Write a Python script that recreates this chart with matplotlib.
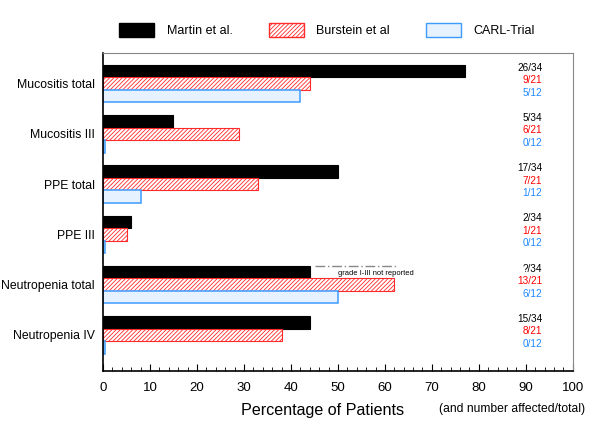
import numpy as np
import matplotlib
matplotlib.use("Agg")
import matplotlib.pyplot as plt
from matplotlib.patches import Patch
from matplotlib.ticker import MultipleLocator

plt.rcParams['font.family'] = ['Liberation Sans', 'DejaVu Sans']
plt.rcParams['hatch.linewidth'] = 0.6

categories = ["Mucositis total", "Mucositis III", "PPE total", "PPE III",
              "Neutropenia total", "Neutropenia IV"]
series_names = ["Martin et al.", "Burstein et al", "CARL-Trial"]
martin = [77, 15, 50, 6, 44, 44]
burstein = [44, 29, 33, 5, 62, 38]
carl = [42, 0.5, 8, 0.5, 50, 0.5]
martin_counts = ["26/34", "5/34", "17/34", "2/34", "?/34", "15/34"]
burstein_counts = ["9/21", "6/21", "7/21", "1/21", "13/21", "8/21"]
carl_counts = ["5/12", "0/12", "1/12", "0/12", "6/12", "0/12"]

blue_edge = "#3d9bff"
blue_face = "#e6f2ff"
red_edge = "#ff2a2a"
text_colors = ["black", "#ff0000", "#1e88ff"]

fig = plt.figure(figsize=(6, 4.24), dpi=100)
ax = fig.add_axes([0.1717, 0.125, 0.783, 0.75])

y = np.arange(len(categories))
h = 0.25
ax.barh(y - h, martin, height=h, color="black", edgecolor="black", linewidth=0.8)
ax.barh(y, burstein, height=h, color="white", edgecolor=red_edge, hatch="////////", linewidth=0.8)
ax.barh(y + h, carl, height=h, color=blue_face, edgecolor=blue_edge, linewidth=1.1)

# counts on the right
for i in range(len(categories)):
    for j, labels in enumerate([martin_counts, burstein_counts, carl_counts]):
        ax.text(93.5, y[i] + (j - 1) * h - 0.07, labels[i], ha="right", va="center",
                fontsize=7.2, color=text_colors[j])

# note on neutropenia total
ax.plot([45.2, 62.3], [4 - 0.37, 4 - 0.37], color="#888888", linestyle=(0, (7, 2, 1, 2)), linewidth=1.0)
ax.text(50.0, 4 - 0.23, "grade I-III not reported", fontsize=5.4, va="center", ha="left")

ax.set_xlim(0, 100)
ax.set_ylim(5.72, -0.61)
ax.set_yticks(y)
ax.set_yticklabels(categories, fontsize=8.8)
ax.tick_params(axis="y", length=0, pad=6)
ax.xaxis.set_major_locator(MultipleLocator(10))
ax.xaxis.set_minor_locator(MultipleLocator(2))
ax.tick_params(axis="x", which="major", direction="in", length=5, labelsize=9.5, pad=8)
ax.tick_params(axis="x", which="minor", direction="in", length=3)
for s in ["top", "right"]:
    ax.spines[s].set_color("#888888")
for s in ["left", "bottom"]:
    ax.spines[s].set_color("black")
    ax.spines[s].set_linewidth(1.2)

fig.text(0.537, 0.033, "Percentage of Patients", fontsize=11.6, ha="center", va="center")
fig.text(0.854, 0.036, "(and number affected/total)", fontsize=8.7, ha="center", va="center")

handles = [Patch(facecolor="black", edgecolor="black"),
           Patch(facecolor="white", edgecolor=red_edge, hatch="////////"),
           Patch(facecolor=blue_face, edgecolor=blue_edge)]
fig.legend(handles, series_names, loc="center", bbox_to_anchor=(0.545, 0.929), ncol=3,
           frameon=False, handlelength=2.8, handleheight=1.3, handletextpad=1.0,
           columnspacing=2.9, fontsize=9.0)

fig.savefig("out.png", dpi=100)
